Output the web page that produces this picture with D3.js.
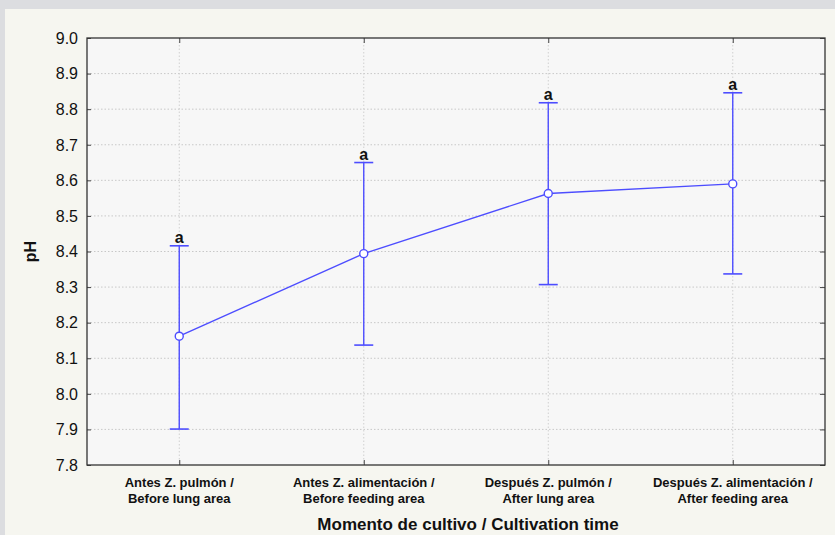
<!DOCTYPE html>
<html><head><meta charset="utf-8">
<script src="https://cdn.jsdelivr.net/npm/d3@7"></script>
<style>html,body{margin:0;padding:0;background:#dcdde0;}svg{display:block;}</style>
</head><body>
<svg id="c" width="835" height="535"></svg>
<script>
const categoriesEs = ["Antes Z. pulmón /", "Antes Z. alimentación /", "Después Z. pulmón /", "Después Z. alimentación /"];
const categoriesEn = ["Before lung area", "Before feeding area", "After lung area", "After feeding area"];
const means = [8.162, 8.394, 8.563, 8.590];
const upper = [8.416, 8.650, 8.818, 8.846];
const lower = [7.901, 8.137, 8.307, 8.337];
const letters = ["a", "a", "a", "a"];
const yTicks = [7.8, 7.9, 8.0, 8.1, 8.2, 8.3, 8.4, 8.5, 8.6, 8.7, 8.8, 8.9, 9.0];

const svg = d3.select("#c");
const font = "'Liberation Sans', Arial, sans-serif";
svg.append("rect").attr("x", 0).attr("y", 0).attr("width", 835).attr("height", 535).attr("fill", "#dcdde0");
svg.append("rect").attr("x", 5).attr("y", 9).attr("width", 830).attr("height", 526).attr("fill", "#f6f6f0");

const L = 87, R = 825, T = 38, B = 465;
const idx = d3.range(categoriesEs.length);
const x = d3.scalePoint().domain(idx).range([L, R]).padding(0.5);
const y = d3.scaleLinear().domain([7.8, 9.0]).range([B, T]);

svg.append("rect").attr("x", L).attr("y", T).attr("width", R - L).attr("height", B - T).attr("fill", "#f7f7f7");

// grid
const g = svg.append("g");
g.selectAll(".hg").data(yTicks.slice(1, -1)).enter().append("line")
  .attr("x1", L).attr("x2", R).attr("y1", d => y(d)).attr("y2", d => y(d))
  .attr("stroke", "#c8c8c8").attr("stroke-width", 1).attr("stroke-dasharray", "1.5,2");
g.selectAll(".vg").data(idx).enter().append("line")
  .attr("x1", d => x(d)).attr("x2", d => x(d)).attr("y1", T).attr("y2", B)
  .attr("stroke", "#d0d0d0").attr("stroke-width", 1).attr("stroke-dasharray", "1.5,2");

// axes (inward ticks)
const axL = svg.append("g").attr("transform", `translate(${L},0)`)
  .call(d3.axisRight(y).tickValues(yTicks).tickSize(4).tickFormat(""));
const axR = svg.append("g").attr("transform", `translate(${R},0)`)
  .call(d3.axisLeft(y).tickValues(yTicks).tickSize(5).tickFormat(""));
const axT = svg.append("g").attr("transform", `translate(0,${T})`)
  .call(d3.axisBottom(x).tickSize(5).tickFormat(""));
const axB = svg.append("g").attr("transform", `translate(0,${B})`)
  .call(d3.axisTop(x).tickSize(5).tickFormat(""));
[axL, axR, axT, axB].forEach(a => { a.selectAll(".domain").remove(); a.selectAll("line").attr("stroke", "#444"); });

svg.append("rect").attr("x", L).attr("y", T).attr("width", R - L).attr("height", B - T)
  .attr("fill", "none").attr("stroke", "#333").attr("stroke-width", 1.3);

// y tick labels
svg.append("g").selectAll("text").data(yTicks).enter().append("text")
  .attr("x", 78).attr("y", d => y(d)).attr("dy", "0.36em").attr("text-anchor", "end")
  .attr("font-family", font).attr("font-size", 16).attr("fill", "#111")
  .text(d => d.toFixed(1));

// x labels
const xl = svg.append("g").selectAll("text").data(idx).enter().append("text")
  .attr("text-anchor", "middle").attr("font-family", font).attr("font-size", 13)
  .attr("font-weight", "bold").attr("fill", "#111");
xl.append("tspan").attr("x", d => x(d)).attr("y", 487).text(d => categoriesEs[d]);
xl.append("tspan").attr("x", d => x(d)).attr("y", 503).text(d => categoriesEn[d]);

svg.append("text").attr("x", (L + R) / 2 + 12).attr("y", 530).attr("text-anchor", "middle")
  .attr("font-family", font).attr("font-size", 17).attr("font-weight", "bold").attr("fill", "#111")
  .text("Momento de cultivo / Cultivation time");
svg.append("text").attr("transform", `translate(36,${(T + B) / 2}) rotate(-90)`).attr("text-anchor", "middle")
  .attr("font-family", font).attr("font-size", 16).attr("font-weight", "bold").attr("fill", "#111")
  .text("pH");

// error bars
const blue = "#4d4dff";
const eb = svg.append("g");
eb.selectAll(".v").data(idx).enter().append("line")
  .attr("x1", d => x(d)).attr("x2", d => x(d)).attr("y1", d => y(upper[d])).attr("y2", d => y(lower[d]))
  .attr("stroke", blue).attr("stroke-width", 1.4);
eb.selectAll(".ct").data(idx).enter().append("line")
  .attr("x1", d => x(d) - 9.5).attr("x2", d => x(d) + 9.5).attr("y1", d => y(upper[d])).attr("y2", d => y(upper[d]))
  .attr("stroke", blue).attr("stroke-width", 1.6);
eb.selectAll(".cb").data(idx).enter().append("line")
  .attr("x1", d => x(d) - 9.5).attr("x2", d => x(d) + 9.5).attr("y1", d => y(lower[d])).attr("y2", d => y(lower[d]))
  .attr("stroke", blue).attr("stroke-width", 1.6);

// mean line
svg.append("path").datum(idx)
  .attr("d", d3.line().x(d => x(d)).y(d => y(means[d])))
  .attr("fill", "none").attr("stroke", blue).attr("stroke-width", 1.4);
svg.selectAll(".pt").data(idx).enter().append("circle")
  .attr("cx", d => x(d)).attr("cy", d => y(means[d])).attr("r", 4)
  .attr("fill", "#ffffff").attr("stroke", blue).attr("stroke-width", 1.4);

// letters
svg.selectAll(".lt").data(idx).enter().append("text")
  .attr("x", d => x(d)).attr("y", d => y(upper[d]) - 3).attr("text-anchor", "middle")
  .attr("font-family", font).attr("font-size", 16).attr("font-weight", "bold").attr("fill", "#111")
  .text(d => letters[d]);
</script>
</body></html>
